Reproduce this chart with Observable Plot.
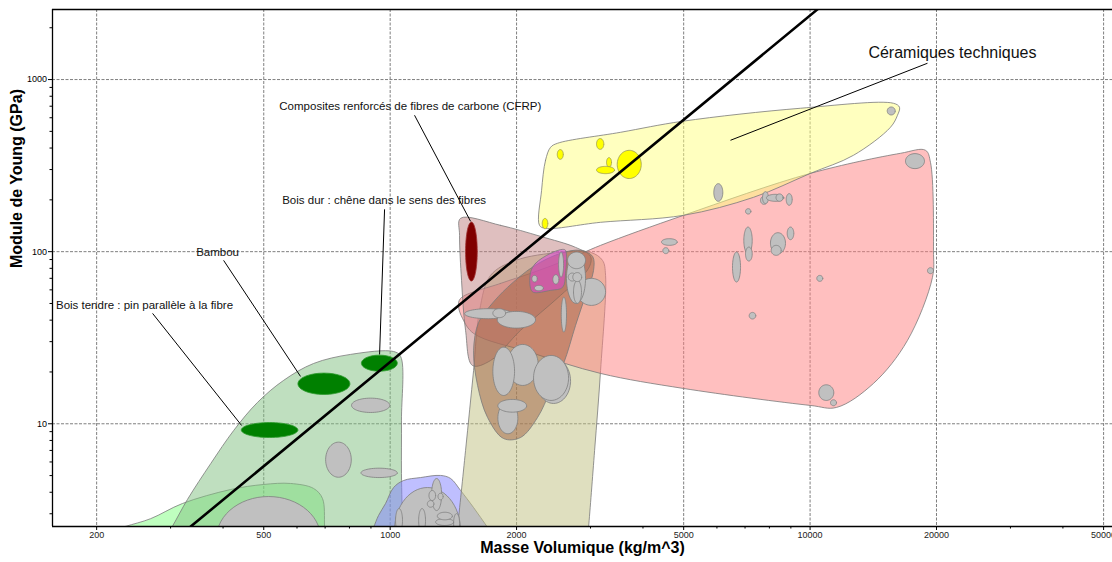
<!DOCTYPE html>
<html><head><meta charset="utf-8">
<script src="https://cdn.jsdelivr.net/npm/d3@7"></script>
<script src="https://cdn.jsdelivr.net/npm/@observablehq/plot@0.6"></script>
<style>body{margin:0;background:#fff}</style>
</head><body><div id="chart"></div>
<script>
// ---------- axes ----------
const xTicksMajor = [200, 500, 1000, 2000, 5000, 10000, 20000, 50000];
const xTicksMinor = [300, 400, 600, 700, 800, 900, 3000, 4000, 6000, 7000, 8000, 9000, 30000, 40000];
const yTicksMajor = [10, 100, 1000];
const yTicksMinor = [3,4,5,6,7,8,9,20,30,40,50,60,70,80,90,200,300,400,500,600,700,800,900,2000];
const xDomain = [157, 52500];
const yDomain = [2.53, 2553];

// ---------- family envelopes: [density kg/m^3, Young's modulus GPa] ----------
const foams = [[204,2.27],[234,2.53],[269,2.81],[320,3.44],[417,4.15],[500,4.44],[579,4.50],[657,4.21],[690,3.68],[698,2.53],[702,1.8],[450,1.2]];
const woods = [[284,1.96],[302,2.50],[329,3.63],[374,5.88],[424,9.14],[483,13.3],[558,17.9],[657,22.4],[805,25.3],[1019,26.3],[1059,24.6],[1064,10.5],[1064,5.14],[1070,2.50],[1072,1.8],[600,1.2]];
const polymers = [[874,1.96],[913,2.50],[938,2.93],[975,3.44],[1019,4.26],[1076,4.68],[1182,4.87],[1318,5.01],[1393,4.81],[1471,4.10],[1580,3.26],[1706,2.50],[1832,1.96],[1250,1.3]];
const glasses = [[1431,1.96],[1447,2.50],[1512,7.0],[1580,20.4],[1633,45.6],[1734,72.8],[1989,89.0],[2545,99.1],[3000,99.1],[3204,89.0],[3258,72.8],[3170,20.4],[3068,7.0],[2968,2.50],[2940,1.96],[2100,1.3]];
const metals = [[1471,53.5],[1832,65.4],[2159,74.8],[2616,89.0],[3170,108.8],[4995,162.6],[10023,285.2],[16416,372.8],[18828,388.2],[19351,330.5],[19672,101.8],[19563,70.9],[17058,30.5],[14158,17.16],[11557,12.44],[10023,12.78],[4995,16.04],[3170,19.61],[2159,25.97],[1580,33.5],[1487,40.96],[1455,48.08]];
const composites = [[1471,156.2],[1832,142.2],[2281,122.7],[2764,105.9],[3000,93.9],[2968,80.0],[2545,55.7],[2044,34.9],[1734,23.3],[1571,21.8],[1512,34.9],[1479,68.1],[1463,124.4]];
const natural = [[1624,38.8],[1734,48.7],[1903,62.0],[2195,82.1],[2545,97.8],[2840,101.8],[3034,93.9],[3051,77.9],[2919,55.7],[2764,37.3],[2588,22.4],[2410,15.6],[2244,10.88],[2044,8.32],[1862,8.21],[1706,10.88],[1615,16.7],[1580,26.7]];
const ceramics = [[2294,227.2],[2344,339.5],[2410,404.1],[2504,426.4],[3538,493.9],[4968,572.4],[9487,681.2],[15798,728.1],[16327,690.2],[16149,620.2],[15539,528.1],[12686,363.1],[10023,285.2],[7333,206.9],[4995,162.6],[3170,148.1],[2344,136.6],[2268,142.2]];
const elastomersMix = [[2159,75.8],[2219,85.5],[2410,97.8],[2574,103.1],[2616,101.8],[2616,74.8],[2574,62.0],[2410,59.6],[2195,58.0],[2159,61.2]];

// ---------- individual materials: [rhoMin, rhoMax, Emin, Emax] ----------
const greyMaterials = [
  [386,683,1.244,3.778],[809,998,11.63,14.09],[702,808,4.89,7.82],[852,1040,4.87,5.52],
  [1024,1471,1.348,4.262],[1030,1070,2.333,3.217],[1169,1214,2.333,3.217],[1416,1463,2.333,3.008],
  [1283,1416,2.564,2.814],[1295,1406,2.766,3.062],[1255,1326,3.131,4.808],[1237,1283,3.58,4.095],
  [1300,1337,3.615,3.948],[1226,1271,3.274,3.58],
  [1504,1953,40.79,46.63],[1799,2219,35.96,44.97],[1756,1883,41.35,46.63],
  [1900,2252,16.7,28.91],[1756,1978,14.6,27.88],
  [2232,2689,13.12,23.97],[2195,2660,13.66,24.95],
  [1805,2014,8.747,13.35],[1805,2113,11.68,13.85],
  [2555,2630,34.09,54.45],
  [2790,3258,48.73,69.96],[2630,2919,50.05,97.75],[2645,2919,79.65,99.47],[2733,2855,50.05,68.1],
  [2655,2774,67.5,75.1],[2722,2858,67.0,75.6],
  [2518,2588,71.18,99.47],[2175,2240,66.6,72.82],[2440,2522,64.8,73.5],[2205,2316,59.25,63.69],
  [16873,18724,303.8,371.3],[5898,6197,196.1,248.5],[7618,7915,188.4,209.7],[7702,7962,190.2,223.3],
  [7872,8659,196.1,215.4],[8296,8621,196.1,216.6],[8772,9066,185.9,217.4],[7018,7228,165.4,177.8],
  [4427,4826,108.8,119.0],[4459,4608,97.4,105.5],[6953,7281,97.4,139.0],[7018,7281,88.2,106.3],
  [6535,6829,66.6,99.47],[8047,8738,97.4,128.9],[8078,8535,95.17,108.8],[8821,9146,117.4,139.0],
  [10375,10720,67.2,72.8],[19034,19672,74.5,80.7],[7161,7424,40.62,44.37],[10488,11388,13.66,16.85],
  [11184,11557,12.73,13.79],[15264,15950,622.7,693]
];
const woodMaterials = [[442,603,8.32,10.17],[603,802,14.8,19.7],[854,1040,20.2,25.05]];
const cfrpMaterials = [[1512,1612,67.5,148.7]];
const ceramicMaterials = [[2500,2584,344,392],[3100,3227,393,454],[3275,3366,310,352],[3100,3422,284,313],[3473,3962,266,388],[2302,2374,136,156]];

// ---------- guide line E ~ rho^2 ----------
const guideRho = [335, 10400];
const guideE = [2.53, 2550];

// ---------- annotations ----------
const titleLabel = [{text: "Céramiques techniques", rho: 21830, E: 1428}];
const smallLabels = [
  {text: "Composites renforcés de fibres de carbone (CFRP)", rho: 1117, E: 699.6},
  {text: "Bois dur : chêne dans le sens des fibres", rho: 967.6, E: 198.7},
  {text: "Bambou", rho: 388.2, E: 99.47},
  {text: "Bois tendre : pin parallèle à la fibre", rho: 260, E: 48.73}
];
const leaders = [
  {r1: 19034, e1: 1244, r2: 6463, e2: 443.7},
  {r1: 1143, e1: 620.2, r2: 1554, e2: 150.1},
  {r1: 969.8, e1: 176.2, r2: 943.6, e2: 25.28},
  {r1: 401.2, e1: 89.01, r2: 611.7, e2: 18.84},
  {r1: 271.8, e1: 43.78, r2: 442.8, e2: 9.775}
];

function ellipseRows(list, tag) {
  const rows = [];
  list.forEach(([r0, r1, e0, e1], i) => {
    const lx = (Math.log10(r0) + Math.log10(r1)) / 2, ax = (Math.log10(r1) - Math.log10(r0)) / 2;
    const ly = (Math.log10(e0) + Math.log10(e1)) / 2, ay = (Math.log10(e1) - Math.log10(e0)) / 2;
    for (let k = 0; k < 60; k++) {
      const t = 2 * Math.PI * k / 60;
      rows.push({id: tag + i, x: 10 ** (lx + ax * Math.cos(t)), y: 10 ** (ly + ay * Math.sin(t))});
    }
  });
  return rows;
}
const env = (pts, fill) => Plot.line(pts, {x: d => d[0], y: d => d[1], curve: "catmull-rom-closed",
  fill, fillOpacity: 0.5, stroke: "#7a7a7a", strokeWidth: 0.8, clip: true});
const ell = (list, tag, fill, stroke) => Plot.line(ellipseRows(list, tag), {x: "x", y: "y", z: "id",
  curve: "linear-closed", fill, stroke, strokeWidth: 0.8, clip: true});

const chart = Plot.plot({
  width: 1112, height: 562,
  marginLeft: 52, marginRight: 0, marginTop: 9, marginBottom: 36,
  x: {type: "log", domain: xDomain},
  y: {type: "log", domain: yDomain},
  style: {fontFamily: "'Liberation Sans', Arial, sans-serif", background: "#fff"},
  marks: [
    Plot.ruleX(xTicksMajor, {stroke: "#7f7f7f", strokeDasharray: "3,1.5", strokeWidth: 1}),
    Plot.ruleY(yTicksMajor, {stroke: "#7f7f7f", strokeDasharray: "3,1.5", strokeWidth: 1}),
    env(foams, "#80ff80"),
    env(woods, "#80c080"),
    env(polymers, "#8080ff"),
    env(glasses, "#c0c080"),
    env(metals, "#ff8080"),
    env(composites, "#c08080"),
    env(natural, "#a06040"),
    env(ceramics, "#ffff80"),
    env(elastomersMix, "#e040e0"),
    ell(greyMaterials, "g", "#c0c0c0", "#7f7f7f"),
    ell(woodMaterials, "w", "#008000", "#2e9a2e"),
    ell(cfrpMaterials, "c", "#800000", "#a03030"),
    ell(ceramicMaterials, "y", "#ffff00", "#9a9a50"),
    Plot.line(guideRho.map((r, i) => [r, guideE[i]]), {x: d => d[0], y: d => d[1], stroke: "#000", strokeWidth: 2.6, clip: true}),
    Plot.link(leaders, {x1: "r1", y1: "e1", x2: "r2", y2: "e2", stroke: "#000", strokeWidth: 1}),
    Plot.text(smallLabels, {x: "rho", y: "E", text: "text", fontSize: 11.5, fill: "#111", ariaLabel: "callout"}),
    Plot.text(titleLabel, {x: "rho", y: "E", text: "text", fontSize: 16, fill: "#111", ariaLabel: "callout"}),
    Plot.ruleX([xDomain[0]], {stroke: "#000", strokeWidth: 1.3}),
    Plot.ruleY(yDomain, {stroke: "#000", strokeWidth: 1.3}),
    Plot.axisX({ticks: xTicksMajor, tickFormat: () => "", tickSize: 4, label: null, anchor: "bottom"}),
    Plot.axisX({ticks: xTicksMinor, tickFormat: () => "", tickSize: 2.5, label: null, anchor: "bottom"}),
    Plot.text(xTicksMajor, {x: d => d, frameAnchor: "bottom", dy: 11, text: d => String(d), fontSize: 9, fill: "#222"}),
    Plot.axisY({ticks: yTicksMajor, tickFormat: d => String(d), tickSize: 4, tickPadding: 1.5, fontSize: 9, label: null, anchor: "left"}),
    Plot.axisY({ticks: yTicksMinor, tickFormat: () => "", tickSize: 2.5, label: null, anchor: "left"}),
    Plot.text(["Masse Volumique (kg/m^3)"], {frameAnchor: "bottom", dy: 26, text: d => d, fontWeight: "bold", fontSize: 16}),
    Plot.text(["Module de Young (GPa)"], {frameAnchor: "left", dx: -36, rotate: -90, text: d => d, fontWeight: "bold", fontSize: 16})
  ]
});
document.getElementById("chart").append(chart);
chart.querySelectorAll('g[aria-label="callout"] text').forEach(t => {
  const b = t.getBBox();
  const r = document.createElementNS("http://www.w3.org/2000/svg", "rect");
  r.setAttribute("x", b.x - 2); r.setAttribute("y", b.y - 2);
  r.setAttribute("width", b.width + 4); r.setAttribute("height", b.height + 4);
  r.setAttribute("fill", "#fff"); r.setAttribute("stroke", "none");
  if (t.getAttribute("transform")) r.setAttribute("transform", t.getAttribute("transform"));
  t.parentNode.insertBefore(r, t);
});
</script>
</body></html>
